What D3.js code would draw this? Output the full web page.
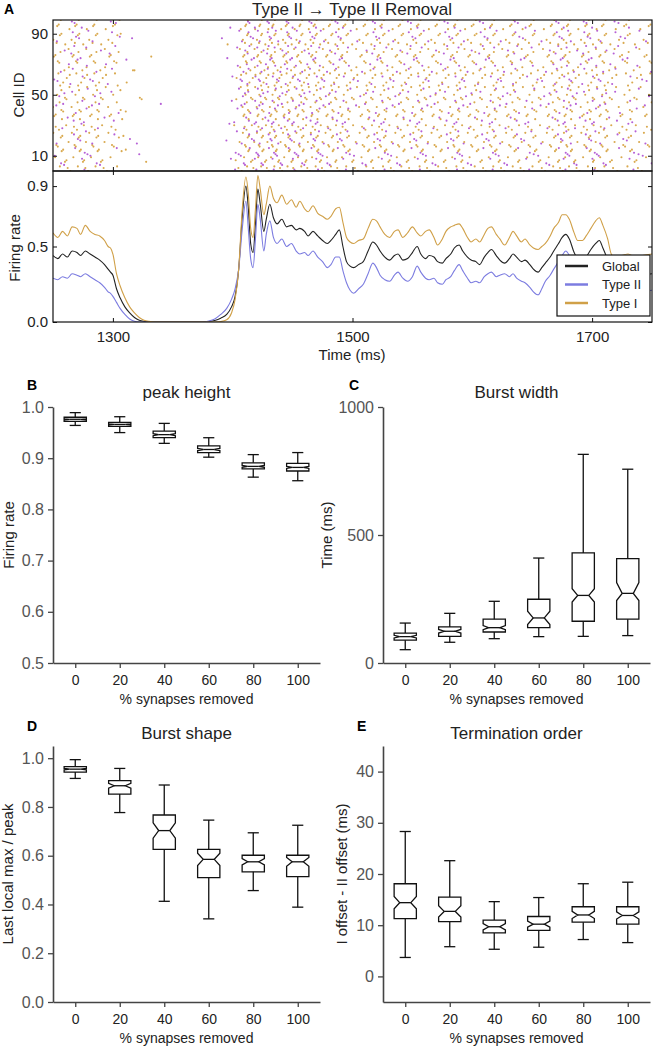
<!DOCTYPE html>
<html>
<head>
<meta charset="utf-8">
<script src="https://cdn.jsdelivr.net/npm/d3@7"></script>
<style>
  body { margin: 0; background: #fff; }
  svg text { font-family: "Liberation Sans", Arial, sans-serif; }
</style>
</head>
<body>
<svg id="fig" width="654" height="1050"></svg>
<script>
// ---------- datos panel A ----------
const rateTime = [
  1250, 1254, 1258, 1262, 1266, 1270, 1273, 1277, 1281, 1285,
  1289, 1293, 1296, 1298, 1300, 1303, 1306, 1310, 1314, 1318,
  1322, 1326, 1330, 1335, 1375, 1380, 1385, 1390, 1395, 1399,
  1402, 1405, 1408, 1411, 1413, 1415, 1417, 1419, 1421, 1423,
  1426, 1428, 1431, 1434, 1437, 1441, 1445, 1449, 1453, 1456,
  1460, 1463, 1467, 1471, 1475, 1479, 1482, 1486, 1489, 1492,
  1495, 1498, 1501, 1505, 1509, 1513, 1517, 1520, 1523, 1527,
  1531, 1535, 1538, 1542, 1546, 1550, 1554, 1557, 1561, 1564,
  1568, 1571, 1575, 1578, 1582, 1585, 1589, 1592, 1596, 1599,
  1603, 1606, 1610, 1613, 1616, 1620, 1623, 1627, 1631, 1634,
  1637, 1641, 1644, 1648, 1651, 1655, 1658, 1661, 1665, 1668,
  1672, 1675, 1678, 1681, 1685, 1688, 1692, 1695, 1699, 1703,
  1706, 1709, 1713, 1716, 1720, 1725, 1730, 1736, 1742, 1750
]
const rateTypeI = [
  .59, .56, .60, .57, .63, .62, .58, .64, .60, .58,
  .57, .54, .50, .49, .45, .32, .24, .16, .10, .06,
  .03, .012, .004, 0, 0, 0, 0, .003, .015, .06,
  .15, .35, .75, .96, .85, .62, .56, .75, .97, .88,
  .71, .78, .90, .82, .79, .84, .78, .81, .76, .80,
  .75, .73, .77, .72, .70, .68, .70, .75, .76, .66,
  .56, .53, .52, .54, .55, .62, .68, .67, .63, .58,
  .56, .60, .61, .56, .59, .63, .59, .57, .60, .61,
  .56, .51, .55, .60, .63, .64, .65, .62, .56, .53,
  .55, .53, .58, .62, .63, .58, .55, .51, .56, .60,
  .57, .53, .55, .51, .49, .48, .50, .52, .57, .62,
  .66, .71, .71, .68, .59, .54, .54, .57, .62, .67,
  .69, .64, .55, .45, .42, .44, .45, .43, .44, .45
]
const rateGlobal = [
  .44, .42, .45, .43, .47, .46, .44, .47, .45, .43,
  .41, .38, .35, .33, .31, .22, .16, .10, .06, .03,
  .012, .004, 0, 0, 0, .003, .01, .025, .05, .10,
  .17, .35, .70, .90, .76, .52, .46, .65, .88, .78,
  .60, .68, .78, .69, .65, .68, .63, .64, .61, .62,
  .60, .57, .60, .57, .54, .52, .54, .58, .61, .50,
  .40, .37, .36, .38, .40, .47, .53, .51, .47, .43,
  .41, .44, .45, .41, .42, .46, .50, .45, .42, .44,
  .43, .40, .39, .42, .45, .49, .51, .47, .43, .41,
  .40, .38, .43, .46, .48, .44, .41, .39, .42, .45,
  .43, .40, .41, .38, .35, .33, .36, .39, .43, .47,
  .52, .56, .58, .55, .46, .42, .41, .43, .48, .52,
  .54, .49, .41, .33, .30, .30, .31, .30, .31, .32
]
const rateTypeII = [
  .29, .28, .30, .29, .32, .31, .30, .32, .30, .28,
  .26, .23, .20, .19, .17, .13, .09, .05, .02, .005,
  0, 0, 0, 0, 0, .006, .02, .05, .09, .15,
  .22, .35, .62, .80, .62, .42, .36, .55, .78, .68,
  .47, .58, .67, .56, .52, .55, .50, .52, .47, .45,
  .46, .44, .47, .43, .40, .36, .38, .43, .43, .34,
  .26, .21, .19, .22, .25, .32, .39, .36, .31, .28,
  .27, .31, .33, .29, .27, .30, .37, .33, .29, .28,
  .29, .26, .25, .28, .30, .34, .38, .34, .29, .26,
  .27, .26, .30, .32, .33, .30, .31, .32, .30, .32,
  .29, .27, .26, .23, .20, .18, .22, .27, .31, .35,
  .40, .44, .47, .44, .36, .32, .33, .34, .38, .41,
  .43, .38, .31, .24, .22, .21, .20, .19, .20, .21
]
// tipo de cada célula: '1' = Type I, '2' = Type II
const cellTypes = [
  '1211221121', '2221121121', '2211212121', '1222121121', '1212212112',
  '1221211212', '2121121212', '2112211212', '1221121221', '1221211221'
].join('')
// fase inicial de cada célula (en centésimas de ciclo)
const cellPhase = [
  5, 12, 21, 63, 70, 78, 34, 27, 19, 88,
  95, 3, 11, 52, 45, 39, 74, 81, 90, 16,
  24, 31, 58, 49, 42, 97, 8, 67, 75, 84,
  29, 21, 14, 43, 51, 60, 92, 85, 37, 45,
  54, 6, 99, 91, 72, 64, 18, 26, 35, 83,
  76, 69, 47, 55, 2, 10, 61, 53, 44, 88,
  96, 25, 17, 9, 70, 79, 38, 46, 13, 5,
  57, 65, 73, 32, 23, 94, 86, 50, 59, 68,
  15, 7, 41, 33, 80, 89, 98, 27, 36, 62,
  54, 46, 1, 11, 20, 77, 69, 40, 48, 57
]
// spikes aislados dentro del silencio [tiempo, célula]
const straySpikes = [[1316, 87], [1332, 75], [1318, 66], [1324, 47], [1340, 44], [1320, 18], [1322, 11]]
const rasterTicks = [10, 50, 90]
const rateTicks = [0, 0.5, 0.9]
const timeTicks = [1300, 1500, 1700]

// ---------- datos paneles B-E ----------
const removed = [0, 20, 40, 60, 80, 100]

const peakLow = [0.964, 0.950, 0.929, 0.902, 0.863, 0.856]
const peakQ1 = [0.972, 0.962, 0.940, 0.911, 0.879, 0.875]
const peakMed = [0.976, 0.966, 0.946, 0.917, 0.884, 0.882]
const peakQ3 = [0.980, 0.970, 0.953, 0.924, 0.891, 0.890]
const peakHigh = [0.989, 0.981, 0.968, 0.940, 0.907, 0.911]
const peakNotchLo = [0.975, 0.965, 0.944, 0.915, 0.882, 0.880]
const peakNotchHi = [0.977, 0.967, 0.948, 0.919, 0.886, 0.884]

const widthLow = [52, 81, 95, 103, 104, 107]
const widthQ1 = [89, 104, 121, 138, 163, 171]
const widthMed = [103, 124, 138, 176, 264, 272]
const widthQ3 = [117, 141, 171, 249, 430, 408]
const widthHigh = [156, 194, 241, 410, 815, 757]
const widthNotchLo = [98, 117, 130, 150, 238, 244]
const widthNotchHi = [108, 131, 146, 202, 290, 314]

const shapeLow = [0.917, 0.777, 0.413, 0.341, 0.457, 0.389]
const shapeQ1 = [0.943, 0.853, 0.626, 0.510, 0.534, 0.514]
const shapeMed = [0.955, 0.887, 0.703, 0.585, 0.575, 0.575]
const shapeQ3 = [0.965, 0.908, 0.767, 0.626, 0.602, 0.602]
const shapeHigh = [0.994, 0.958, 0.890, 0.746, 0.694, 0.725]
const shapeNotchLo = [0.952, 0.877, 0.672, 0.560, 0.562, 0.557]
const shapeNotchHi = [0.958, 0.897, 0.735, 0.610, 0.588, 0.593]

const orderLow = [3.7, 5.8, 5.3, 5.7, 7.2, 6.6]
const orderQ1 = [11.3, 10.7, 8.5, 9.0, 10.6, 10.2]
const orderMed = [14.4, 12.7, 9.7, 10.2, 12.0, 11.9]
const orderQ3 = [18.1, 15.5, 11.0, 11.7, 13.6, 13.6]
const orderHigh = [28.3, 22.6, 14.6, 15.4, 18.1, 18.4]
const orderNotchLo = [13.2, 11.6, 9.1, 9.6, 11.3, 11.2]
const orderNotchHi = [15.6, 13.8, 10.3, 10.8, 12.7, 12.6]

const colorI = '#d9a94e'
const colorII = '#b660d6'
const lineI = '#d0a048'
const lineII = '#7c7ce0'

const svg = d3.select('#fig')

// ================= Panel A =================
const xTime = d3.scaleLinear().domain([1250, 1750]).range([53, 652])
const yCell = d3.scaleLinear().domain([0, 99]).range([171, 20])
const yRate = d3.scaleLinear().domain([0, 1]).range([322, 171])

const defs = svg.append('defs')
defs.append('clipPath').attr('id', 'clipRaster')
  .append('rect').attr('x', 53).attr('y', 20).attr('width', 599).attr('height', 151)
defs.append('clipPath').attr('id', 'clipRate')
  .append('rect').attr('x', 53).attr('y', 171).attr('width', 599).attr('height', 151)

// interpolación lineal de la tasa
const interp = (vals, t) => {
  const i = d3.bisectRight(rateTime, t)
  if (i <= 0) return vals[0]
  if (i >= rateTime.length) return vals[vals.length - 1]
  const t0 = rateTime[i - 1], t1 = rateTime[i]
  return vals[i - 1] + (vals[i] - vals[i - 1]) * (t - t0) / (t1 - t0)
}

// spikes: cada célula integra la tasa de su tipo
const spikes = []
cellTypes.split('').forEach((c, i) => {
  const vals = c === '1' ? rateTypeI : rateTypeII
  let phase = cellPhase[i] / 100
  for (let t = 1250; t < 1750; t += 0.25) {
    phase += interp(vals, t) * 0.25 / 9
    if (phase >= 1) { phase -= 1; spikes.push({ t: t, cell: i, type: c }) }
  }
})
straySpikes.forEach(s => spikes.push({ t: s[0], cell: s[1], type: cellTypes[s[1]] }))

svg.append('g').attr('clip-path', 'url(#clipRaster)')
  .selectAll('circle').data(spikes).enter()
  .append('circle')
  .attr('cx', d => xTime(d.t))
  .attr('cy', d => yCell(d.cell))
  .attr('r', 1.05)
  .attr('fill', d => d.type === '1' ? colorI : colorII)

// curvas de tasa
const rateLine = vals => d3.line()
  .x((d, i) => xTime(rateTime[i]))
  .y(d => yRate(d))
  .curve(d3.curveMonotoneX)(vals)

const rateG = svg.append('g').attr('clip-path', 'url(#clipRate)')
const series = [
  { name: 'Global', vals: rateGlobal, color: '#222', w: 1.1 },
  { name: 'Type II', vals: rateTypeII, color: lineII, w: 1.1 },
  { name: 'Type I', vals: rateTypeI, color: lineI, w: 1.1 }
]
series.forEach(s => {
  rateG.append('path').attr('d', rateLine(s.vals))
    .attr('fill', 'none').attr('stroke', s.color).attr('stroke-width', s.w)
})

// marcos y ejes panel A (ticks hacia dentro)
const styleA = g => {
  g.select('.domain').remove()
  g.selectAll('.tick line').attr('stroke', '#111')
  g.selectAll('.tick text').attr('font-size', 15).attr('fill', '#222')
    .attr('font-family', '"Liberation Sans", Arial, sans-serif')
}
// raster
svg.append('g').attr('transform', 'translate(53,0)')
  .call(d3.axisLeft(yCell).tickValues(rasterTicks).tickSize(-4).tickPadding(5))
  .call(styleA)
svg.append('g').attr('transform', 'translate(652,0)')
  .call(d3.axisRight(yCell).tickValues(rasterTicks).tickSize(-4).tickFormat(''))
  .call(styleA)
svg.append('g').attr('transform', 'translate(0,171)')
  .call(d3.axisBottom(xTime).tickValues(timeTicks).tickSize(-4).tickFormat(''))
  .call(styleA)
svg.append('g').attr('transform', 'translate(0,20)')
  .call(d3.axisTop(xTime).tickValues(timeTicks).tickSize(-4).tickFormat(''))
  .call(styleA)
// tasa
svg.append('g').attr('transform', 'translate(53,0)')
  .call(d3.axisLeft(yRate).tickValues(rateTicks).tickSize(-4).tickPadding(5).tickFormat(d3.format('.1f')))
  .call(styleA)
svg.append('g').attr('transform', 'translate(652,0)')
  .call(d3.axisRight(yRate).tickValues(rateTicks).tickSize(-4).tickFormat(''))
  .call(styleA)
svg.append('g').attr('transform', 'translate(0,322)')
  .call(d3.axisBottom(xTime).tickValues(timeTicks).tickSize(-4).tickPadding(9).tickFormat(d3.format('d')))
  .call(styleA)
svg.append('g').attr('transform', 'translate(0,171)')
  .call(d3.axisTop(xTime).tickValues(timeTicks).tickSize(-4).tickFormat(''))
  .call(styleA)

svg.append('rect').attr('x', 53).attr('y', 20).attr('width', 599).attr('height', 151)
  .attr('fill', 'none').attr('stroke', '#111').attr('stroke-width', 1.2)
svg.append('rect').attr('x', 53).attr('y', 171).attr('width', 599).attr('height', 151)
  .attr('fill', 'none').attr('stroke', '#111').attr('stroke-width', 1.2)

// leyenda
const legend = svg.append('g')
legend.append('rect').attr('x', 557).attr('y', 255).attr('width', 93).attr('height', 61)
  .attr('fill', '#fff').attr('stroke', '#111').attr('stroke-width', 1.2)
series.forEach((s, i) => {
  const ly = 266 + i * 18.5
  legend.append('line').attr('x1', 565).attr('x2', 588).attr('y1', ly).attr('y2', ly)
    .attr('stroke', s.color).attr('stroke-width', 2.5)
  legend.append('text').attr('x', 602).attr('y', ly).attr('dy', '0.36em')
    .attr('font-size', 13).attr('fill', '#222').text(s.name)
})

// textos panel A
svg.append('text').attr('x', 4).attr('y', 14).attr('font-size', 14).attr('font-weight', 'bold').text('A')
svg.append('text').attr('x', 352).attr('y', 15).attr('text-anchor', 'middle')
  .attr('font-size', 17).attr('fill', '#222').text('Type II \u2192 Type II Removal')
svg.append('text').attr('transform', 'translate(19,95) rotate(-90)')
  .attr('text-anchor', 'middle').attr('dy', '0.35em').attr('font-size', 15).attr('fill', '#222').text('Cell ID')
svg.append('text').attr('transform', 'translate(15,248) rotate(-90)')
  .attr('text-anchor', 'middle').attr('dy', '0.35em').attr('font-size', 15).attr('fill', '#222').text('Firing rate')
svg.append('text').attr('x', 352).attr('y', 360).attr('text-anchor', 'middle')
  .attr('font-size', 15).attr('fill', '#222').text('Time (ms)')

// ================= Paneles B-E =================
const makeStats = (lo, q1, med, q3, hi, nlo, nhi) =>
  removed.map((p, i) => ({ pos: p, lo: lo[i], q1: q1[i], med: med[i], q3: q3[i], hi: hi[i], nlo: nlo[i], nhi: nhi[i] }))

const boxPanel = o => {
  const x = d3.scaleLinear().domain([-10, 110]).range([o.left, o.right])
  const y = d3.scaleLinear().domain(o.yDomain).range([o.bottom, o.top])
  const g = svg.append('g')

  const spine = a => {
    a.select('.domain').attr('stroke', '#444').attr('stroke-width', 1.6)
    a.selectAll('.tick line').attr('stroke', '#444').attr('stroke-width', 1.3)
  }
  g.append('g').attr('transform', `translate(0,${o.bottom})`)
    .call(d3.axisBottom(x).tickValues(removed).tickSize(5).tickSizeOuter(0).tickPadding(7))
    .call(spine)
    .call(a => a.selectAll('.tick text').attr('font-size', 14).attr('fill', '#222')
      .attr('font-family', '"Liberation Sans", Arial, sans-serif'))
  g.append('g').attr('transform', `translate(${o.left},0)`)
    .call(d3.axisLeft(y).tickValues(o.yTicks).tickSize(5).tickSizeOuter(0).tickPadding(4).tickFormat(o.yFormat))
    .call(spine)
    .call(a => a.selectAll('.tick text').attr('font-size', 16).attr('fill', '#555')
      .attr('font-family', '"Liberation Serif", "Times New Roman", serif'))

  o.stats.forEach(s => {
    const cx = x(s.pos)
    const hw = x(s.pos + 5) - x(s.pos)
    const qw = hw / 2
    const bg = g.append('g').attr('stroke', '#111').attr('stroke-width', 1.3).attr('fill', 'none')
    bg.append('line').attr('x1', cx).attr('x2', cx).attr('y1', y(s.q3)).attr('y2', y(s.hi))
    bg.append('line').attr('x1', cx).attr('x2', cx).attr('y1', y(s.q1)).attr('y2', y(s.lo))
    bg.append('line').attr('x1', cx - qw).attr('x2', cx + qw).attr('y1', y(s.hi)).attr('y2', y(s.hi))
    bg.append('line').attr('x1', cx - qw).attr('x2', cx + qw).attr('y1', y(s.lo)).attr('y2', y(s.lo))
    const pts = [
      [cx - hw, y(s.q1)], [cx + hw, y(s.q1)], [cx + hw, y(s.nlo)], [cx + qw, y(s.med)],
      [cx + hw, y(s.nhi)], [cx + hw, y(s.q3)], [cx - hw, y(s.q3)], [cx - hw, y(s.nhi)],
      [cx - qw, y(s.med)], [cx - hw, y(s.nlo)]
    ]
    bg.append('path').attr('d', 'M' + pts.map(p => p.join(',')).join('L') + 'Z')
    bg.append('line').attr('x1', cx - qw).attr('x2', cx + qw).attr('y1', y(s.med)).attr('y2', y(s.med))
  })

  const mid = (o.left + o.right) / 2
  g.append('text').attr('x', o.letterX).attr('y', o.titleY - 8).attr('font-size', 14)
    .attr('font-weight', 'bold').text(o.letter)
  g.append('text').attr('x', mid).attr('y', o.titleY).attr('text-anchor', 'middle')
    .attr('font-size', 17).attr('fill', '#222').text(o.title)
  g.append('text').attr('x', mid).attr('y', o.bottom + 41).attr('text-anchor', 'middle')
    .attr('font-size', 14).attr('fill', '#222').text('% synapses removed')
  g.append('text').attr('transform', `translate(${o.ylabelX},${(o.top + o.bottom) / 2}) rotate(-90)`)
    .attr('text-anchor', 'middle').attr('dy', '0.35em').attr('font-size', 15).attr('fill', '#222')
    .text(o.ylabel)
}

boxPanel({
  left: 53, right: 320, top: 407, bottom: 663, yDomain: [0.5, 1.0],
  yTicks: [0.5, 0.6, 0.7, 0.8, 0.9, 1.0], yFormat: d3.format('.1f'),
  stats: makeStats(peakLow, peakQ1, peakMed, peakQ3, peakHigh, peakNotchLo, peakNotchHi),
  title: 'peak height', ylabel: 'Firing rate', letter: 'B', letterX: 27, titleY: 398, ylabelX: 9
})
boxPanel({
  left: 383, right: 650, top: 407, bottom: 663, yDomain: [0, 1000],
  yTicks: [0, 500, 1000], yFormat: d3.format('d'),
  stats: makeStats(widthLow, widthQ1, widthMed, widthQ3, widthHigh, widthNotchLo, widthNotchHi),
  title: 'Burst width', ylabel: 'Time (ms)', letter: 'C', letterX: 349, titleY: 398, ylabelX: 327
})
boxPanel({
  left: 53, right: 320, top: 746, bottom: 1002, yDomain: [0, 1.05],
  yTicks: [0, 0.2, 0.4, 0.6, 0.8, 1.0], yFormat: d3.format('.1f'),
  stats: makeStats(shapeLow, shapeQ1, shapeMed, shapeQ3, shapeHigh, shapeNotchLo, shapeNotchHi),
  title: 'Burst shape', ylabel: 'Last local max / peak', letter: 'D', letterX: 27, titleY: 739, ylabelX: 8
})
boxPanel({
  left: 383, right: 650, top: 746, bottom: 1002, yDomain: [-5, 45],
  yTicks: [0, 10, 20, 30, 40], yFormat: d3.format('d'),
  stats: makeStats(orderLow, orderQ1, orderMed, orderQ3, orderHigh, orderNotchLo, orderNotchHi),
  title: 'Termination order', ylabel: 'I offset - II offset (ms)', letter: 'E', letterX: 357, titleY: 739, ylabelX: 342
})
</script>
</body>
</html>
